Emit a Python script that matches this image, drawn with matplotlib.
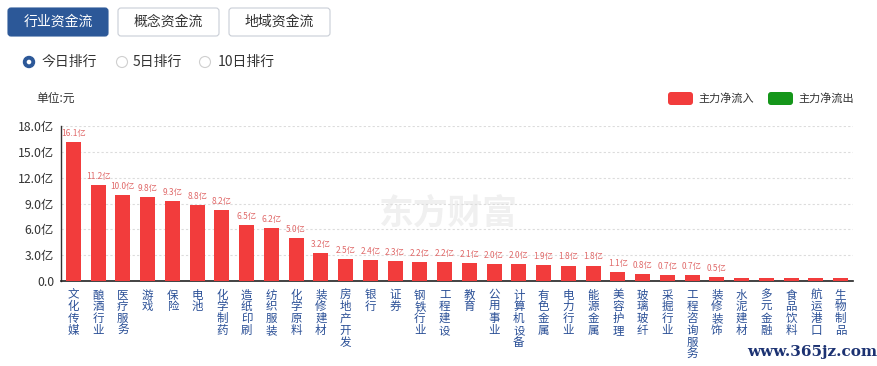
import matplotlib
matplotlib.use("Agg")
import matplotlib.pyplot as plt
from matplotlib.patches import FancyBboxPatch, Circle
from matplotlib.transforms import IdentityTransform

plt.rcParams['font.family'] = ['Noto Sans CJK SC', 'DejaVu Sans']

categories = ["文化传媒", "酿酒行业", "医疗服务", "游戏", "保险", "电池", "化学制药", "造纸印刷",
              "纺织服装", "化学原料", "装修建材", "房地产开发", "银行", "证券", "钢铁行业", "工程建设",
              "教育", "公用事业", "计算机设备", "有色金属", "电力行业", "能源金属", "美容护理", "玻璃玻纤",
              "采掘行业", "工程咨询服务", "装修装饰", "水泥建材", "多元金融", "食品饮料", "航运港口", "生物制品"]
inflow = [16.1, 11.2, 10.0, 9.8, 9.3, 8.8, 8.2, 6.5, 6.2, 5.0, 3.2, 2.5, 2.4, 2.3, 2.2, 2.2,
          2.1, 2.0, 2.0, 1.9, 1.8, 1.8, 1.1, 0.8, 0.7, 0.7, 0.5, 0.4, 0.4, 0.4, 0.3, 0.3]
show_label = [v >= 0.5 for v in inflow]
yticks = [0, 3, 6, 9, 12, 15, 18]
ytick_labels = ["0.0", "3.0亿", "6.0亿", "9.0亿", "12.0亿", "15.0亿", "18.0亿"]
tabs = ["行业资金流", "概念资金流", "地域资金流"]
radios = ["今日排行", "5日排行", "10日排行"]
legend_labels = ["主力净流入", "主力净流出"]

W, H = 877, 366
fig = plt.figure(figsize=(W / 100, H / 100), dpi=100)

def fx(px):
    return px / W

def fy(py):
    return 1 - py / H

RED = "#f23c3c"
GREEN = "#15961a"
NAVY = "#2c5898"

ax = fig.add_axes([fx(61), fy(281), fx(853) - fx(61), fy(126) - fy(281)])
ax.set_zorder(2)
ax.patch.set_alpha(0)
x = list(range(len(categories)))
ax.bar(x, inflow, width=0.6, color=RED, zorder=3)
ax.set_xlim(-0.5, len(categories) - 0.5)
ax.set_ylim(0, 18)
ax.set_yticks(yticks)
ax.set_yticklabels(ytick_labels, fontsize=8.8, color="#333333")
ax.tick_params(axis='y', length=0, pad=5)
ax.set_xticks([])
ax.grid(axis='y', linestyle=(0, (2, 2)), color="#dcdcdc", linewidth=0.8, zorder=0)
for s in ["top", "right"]:
    ax.spines[s].set_visible(False)
ax.spines["left"].set_color("#333333")
ax.spines["bottom"].set_color("#222222")
ax.spines["left"].set_linewidth(1)
ax.spines["bottom"].set_linewidth(1.2)

for i, v in enumerate(inflow):
    if show_label[i]:
        ax.annotate(f"{v:.1f}亿", xy=(i, v), xytext=(0, 4), textcoords="offset pixels",
                    ha="center", va="bottom", fontsize=6, color="#e06a6a")
    for k, ch in enumerate(categories[i]):
        ax.annotate(ch, xy=(i, 0), xycoords=("data", "axes fraction"),
                    xytext=(0, -14 - 11.8 * k), textcoords="offset pixels",
                    ha="center", va="center", fontsize=8.3, color="#2a4f96")

# watermark
fig.text(fx(448), fy(213), "东方财富", fontsize=25, fontweight="bold", color="#f0f0f0",
         ha="center", va="center", zorder=0)

# tabs
tab_x = [(8, 108), (118, 219), (229, 330)]
for i, (t, (x0, x1)) in enumerate(zip(tabs, tab_x)):
    active = i == 0
    p = FancyBboxPatch((x0, H - 36), x1 - x0, 28,
                       boxstyle="round,pad=0,rounding_size=3",
                       transform=IdentityTransform(), facecolor=NAVY if active else "white",
                       edgecolor=NAVY if active else "#c9ced6", linewidth=0.8)
    fig.add_artist(p)
    fig.text(fx((x0 + x1) / 2), fy(22), t, fontsize=10, ha="center", va="center",
             color="white" if active else "#333333")

# radios
radio_x = [(29, 42), (122, 133), (205, 218)]
for i, (t, (cx, tx)) in enumerate(zip(radios, radio_x)):
    if i == 0:
        fig.add_artist(Circle((cx, H - 62), 5.5, transform=IdentityTransform(),
                              facecolor=NAVY, edgecolor=NAVY))
        fig.add_artist(Circle((cx, H - 62), 2.3, transform=IdentityTransform(),
                              facecolor="white", edgecolor="none"))
    else:
        fig.add_artist(Circle((cx, H - 62), 5.5, transform=IdentityTransform(),
                              facecolor="white", edgecolor="#cfcfcf", linewidth=0.8))
    fig.text(fx(tx), fy(62), t, fontsize=10, ha="left", va="center", color="#333333")

fig.text(fx(36), fy(98), "单位:元", fontsize=8.5, ha="left", va="center", color="#333333")

# legend
for (lx, col, lab) in [(668, RED, legend_labels[0]), (768, GREEN, legend_labels[1])]:
    p = FancyBboxPatch((lx, H - 105), 25, 13,
                       boxstyle="round,pad=0,rounding_size=3",
                       transform=IdentityTransform(), facecolor=col, edgecolor="none")
    fig.add_artist(p)
    fig.text(fx(lx + 30), fy(98.5), lab, fontsize=8, ha="left", va="center", color="#333333")

fig.text(fx(812), fy(352), "www.365jz.com", fontsize=11, fontweight="bold",
         family="DejaVu Serif", ha="center", va="center", color="#1c3272")

fig.savefig("out.png", dpi=100)
